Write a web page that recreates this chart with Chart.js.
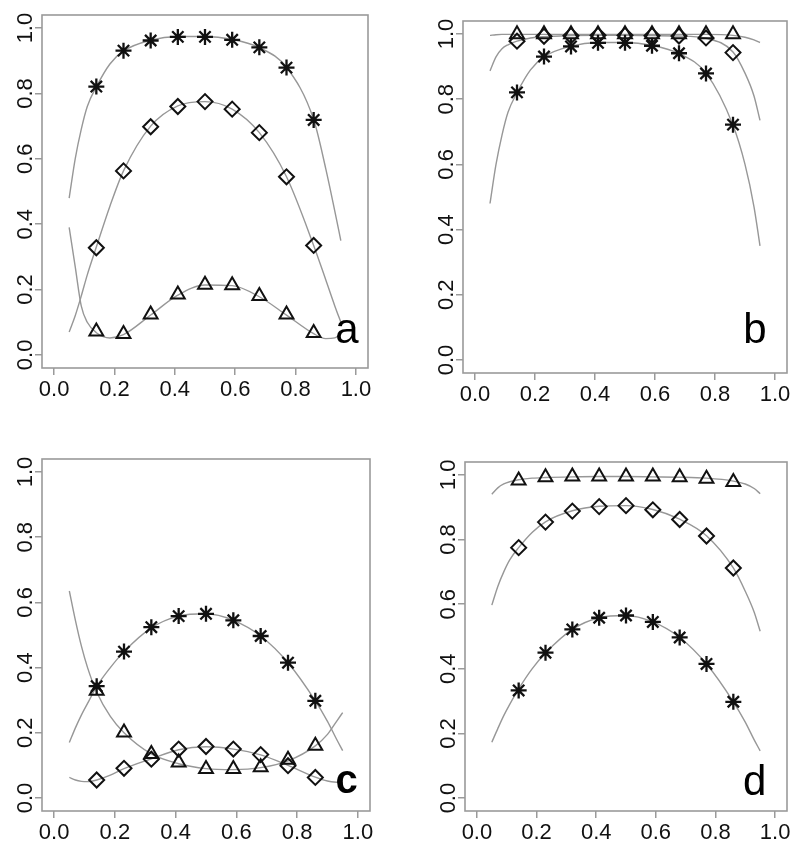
<!DOCTYPE html>
<html>
<head>
<meta charset="utf-8">
<title>Four panels</title>
<script src="https://cdn.jsdelivr.net/npm/chart.js@4.4.1/dist/chart.umd.min.js"></script>
<style>
  body { margin: 0; background: #fff; }
  #wrap { position: relative; width: 800px; height: 852px; }
  #wrap canvas { position: absolute; }
</style>
</head>
<body>
<div id="wrap">
  <canvas id="panel-a" width="400" height="420" style="left:0;top:0"></canvas>
  <canvas id="panel-b" width="400" height="420" style="left:400px;top:0"></canvas>
  <canvas id="panel-c" width="400" height="432" style="left:0;top:420px"></canvas>
  <canvas id="panel-d" width="400" height="432" style="left:400px;top:420px"></canvas>
</div>
<script>
// axis ticks
const tickValues = [0, 0.2, 0.4, 0.6, 0.8, 1.0];
const tickLabels = ["0.0", "0.2", "0.4", "0.6", "0.8", "1.0"];

// x positions of the observed points and of the fitted curves
const markX = [0.14, 0.23, 0.32, 0.41, 0.50, 0.59, 0.68, 0.77, 0.86];
const curveX = [0.05, 0.07, 0.09, 0.11, 0.14, 0.185, 0.23, 0.32, 0.41, 0.50, 0.59, 0.68, 0.77, 0.86, 0.90, 0.93, 0.95];

// panel a
const aStar = [0.821, 0.931, 0.962, 0.973, 0.973, 0.964, 0.941, 0.879, 0.719];
const aDiamond = [0.328, 0.563, 0.698, 0.760, 0.775, 0.752, 0.680, 0.545, 0.335];
const aTriangle = [0.072, 0.064, 0.124, 0.185, 0.215, 0.213, 0.180, 0.124, 0.067];
const aStarCurve = [0.48, 0.60, 0.69, 0.76, 0.82, 0.89, 0.93, 0.963, 0.974, 0.974, 0.965, 0.94, 0.88, 0.72, 0.57, 0.44, 0.35];
const aDiamondCurve = [0.07, 0.12, 0.18, 0.245, 0.33, 0.455, 0.563, 0.70, 0.762, 0.775, 0.752, 0.68, 0.545, 0.335, 0.23, 0.15, 0.10];
const aTriangleCurve = [0.39, 0.27, 0.15, 0.10, 0.068, 0.052, 0.062, 0.122, 0.183, 0.214, 0.212, 0.178, 0.122, 0.065, 0.05, 0.052, 0.065];

// panel b
const bStar = [0.821, 0.931, 0.962, 0.973, 0.973, 0.964, 0.941, 0.879, 0.722];
const bDiamond = [0.978, 0.993, 0.995, 0.996, 0.996, 0.995, 0.994, 0.988, 0.943];
const bTriangle = [0.999, 0.999, 0.999, 0.999, 0.999, 0.999, 0.999, 0.999, 0.999];
const bStarCurve = [0.48, 0.60, 0.69, 0.76, 0.82, 0.89, 0.93, 0.963, 0.974, 0.974, 0.965, 0.94, 0.88, 0.72, 0.60, 0.47, 0.35];
const bDiamondCurve = [0.887, 0.93, 0.955, 0.967, 0.978, 0.988, 0.992, 0.995, 0.996, 0.996, 0.995, 0.994, 0.987, 0.945, 0.88, 0.81, 0.735];
const bTriangleCurve = [0.996, 0.998, 0.999, 0.999, 0.999, 0.999, 0.999, 0.999, 0.999, 0.999, 0.999, 0.999, 0.999, 0.996, 0.99, 0.982, 0.974];

// panel c
const cStar = [0.343, 0.449, 0.524, 0.558, 0.565, 0.545, 0.497, 0.415, 0.298];
const cDiamond = [0.055, 0.091, 0.119, 0.150, 0.158, 0.150, 0.133, 0.099, 0.063];
const cTriangle = [0.329, 0.201, 0.135, 0.109, 0.089, 0.089, 0.094, 0.117, 0.160];
const cStarCurve = [0.17, 0.215, 0.255, 0.29, 0.342, 0.40, 0.449, 0.522, 0.558, 0.565, 0.545, 0.497, 0.415, 0.298, 0.235, 0.18, 0.145];
const cDiamondCurve = [0.063, 0.055, 0.051, 0.05, 0.055, 0.07, 0.09, 0.12, 0.148, 0.157, 0.15, 0.132, 0.10, 0.064, 0.052, 0.048, 0.047];
const cTriangleCurve = [0.635, 0.545, 0.465, 0.40, 0.325, 0.25, 0.20, 0.135, 0.105, 0.09, 0.087, 0.093, 0.114, 0.16, 0.195, 0.235, 0.262];

// panel d
const dStar = [0.333, 0.450, 0.522, 0.558, 0.565, 0.545, 0.497, 0.415, 0.298];
const dDiamond = [0.775, 0.854, 0.888, 0.902, 0.905, 0.892, 0.862, 0.811, 0.712];
const dTriangle = [0.983, 0.993, 0.995, 0.995, 0.995, 0.995, 0.993, 0.988, 0.978];
const dStarCurve = [0.173, 0.215, 0.255, 0.29, 0.338, 0.40, 0.449, 0.522, 0.558, 0.565, 0.545, 0.497, 0.415, 0.298, 0.235, 0.18, 0.146];
const dDiamondCurve = [0.597, 0.655, 0.70, 0.737, 0.775, 0.822, 0.855, 0.889, 0.903, 0.905, 0.893, 0.863, 0.812, 0.712, 0.64, 0.575, 0.516];
const dTriangleCurve = [0.94, 0.96, 0.972, 0.979, 0.985, 0.99, 0.992, 0.994, 0.995, 0.995, 0.994, 0.993, 0.99, 0.981, 0.972, 0.958, 0.942];

// panel letters
const panelLetters = ["a", "b", "c", "d"];

const frameColor = "#9a9a9a";
const curveColor = "#979797";
const inkColor = "#111";
const fontFamily = "'Liberation Sans', Arial, sans-serif";

document.addEventListener("DOMContentLoaded", function () {
  // plot box in canvas pixels, plus where the panel letter sits (data units)
  const panels = [
    { id: "panel-a", box: [42, 15, 368, 368], h: 420, star: aStar, diamond: aDiamond, triangle: aTriangle,
      curves: [aStarCurve, aDiamondCurve, aTriangleCurve], letter: { x: 0.97, y: 0.035, bold: false, size: 42 } },
    { id: "panel-b", box: [63, 21, 387, 373], h: 420, star: bStar, diamond: bDiamond, triangle: bTriangle,
      curves: [bStarCurve, bDiamondCurve, bTriangleCurve], letter: { x: 0.933, y: 0.051, bold: false, size: 42 } },
    { id: "panel-c", box: [42, 39, 370, 391], h: 432, star: cStar, diamond: cDiamond, triangle: cTriangle,
      curves: [cStarCurve, cDiamondCurve, cTriangleCurve], letter: { x: 0.963, y: 0.014, bold: true, size: 40 } },
    { id: "panel-d", box: [65, 42, 387, 391], h: 432, star: dStar, diamond: dDiamond, triangle: dTriangle,
      curves: [dStarCurve, dDiamondCurve, dTriangleCurve], letter: { x: 0.932, y: 0.01, bold: false, size: 42 } }
  ];

  function markerSet(values, style, radius, width) {
    return {
      data: markX.map((x, i) => ({ x: x, y: values[i] })),
      showLine: false,
      pointStyle: style,
      pointRadius: radius,
      pointBorderWidth: width,
      pointBorderColor: inkColor,
      pointBackgroundColor: "rgba(0,0,0,0)",
      order: 0
    };
  }

  function curveSet(values) {
    return {
      data: curveX.map((x, i) => ({ x: x, y: values[i] })),
      showLine: true,
      borderColor: curveColor,
      borderWidth: 1.4,
      pointRadius: 0,
      tension: 0.4,
      cubicInterpolationMode: "monotone",
      fill: false,
      order: 1
    };
  }

  const axisText = {
    id: "axisText",
    afterDraw(chart, args, opts) {
      const { ctx, chartArea: a } = chart;
      const xs = chart.scales.x;
      const ys = chart.scales.y;
      ctx.save();
      ctx.strokeStyle = frameColor;
      ctx.lineWidth = 1.6;
      ctx.strokeRect(a.left, a.top, a.right - a.left, a.bottom - a.top);

      ctx.fillStyle = inkColor;
      ctx.font = "22px " + fontFamily;
      ctx.textAlign = "center";
      ctx.textBaseline = "alphabetic";
      tickValues.forEach((v, i) => {
        ctx.fillText(tickLabels[i], xs.getPixelForValue(v), a.bottom + 28);
      });
      tickValues.forEach((v, i) => {
        ctx.save();
        ctx.translate(a.left - 10, ys.getPixelForValue(v));
        ctx.rotate(-Math.PI / 2);
        ctx.fillText(tickLabels[i], 0, 0);
        ctx.restore();
      });

      const L = opts.letter;
      ctx.font = (L.bold ? "bold " : "") + L.size + "px " + fontFamily;
      ctx.fillStyle = "#000";
      ctx.fillText(opts.text, xs.getPixelForValue(L.x), ys.getPixelForValue(L.y));
      ctx.restore();
    }
  };

  function buildPanel(p, idx) {
    const [left, top, right, bottom] = p.box;
    const axisCommon = {
      type: "linear",
      min: -0.04,
      max: 1.04,
      afterBuildTicks: (s) => { s.ticks = tickValues.map((v) => ({ value: v })); },
      ticks: { display: false },
      grid: { drawOnChartArea: false, drawTicks: true, tickLength: 7, color: frameColor, lineWidth: 1.5 },
      border: { display: false }
    };

    new Chart(document.getElementById(p.id), {
      type: "scatter",
      data: {
        datasets: [
          markerSet(p.star, "star", 8, 2.3),
          markerSet(p.diamond, "rectRot", 7.5, 2),
          markerSet(p.triangle, "triangle", 8, 2),
          curveSet(p.curves[0]),
          curveSet(p.curves[1]),
          curveSet(p.curves[2])
        ]
      },
      options: {
        responsive: false,
        animation: false,
        layout: { padding: { left: 0, top: top, right: 400 - right, bottom: 0 } },
        plugins: {
          legend: { display: false },
          tooltip: { enabled: false },
          axisText: { text: panelLetters[idx], letter: p.letter }
        },
        scales: {
          x: Object.assign({}, axisCommon, { afterFit: (s) => { s.height = p.h - bottom; } }),
          y: Object.assign({}, axisCommon, { afterFit: (s) => { s.width = left; } })
        }
      },
      plugins: [axisText]
    });
  }

  panels.forEach(buildPanel);
});
</script>
</body>
</html>
